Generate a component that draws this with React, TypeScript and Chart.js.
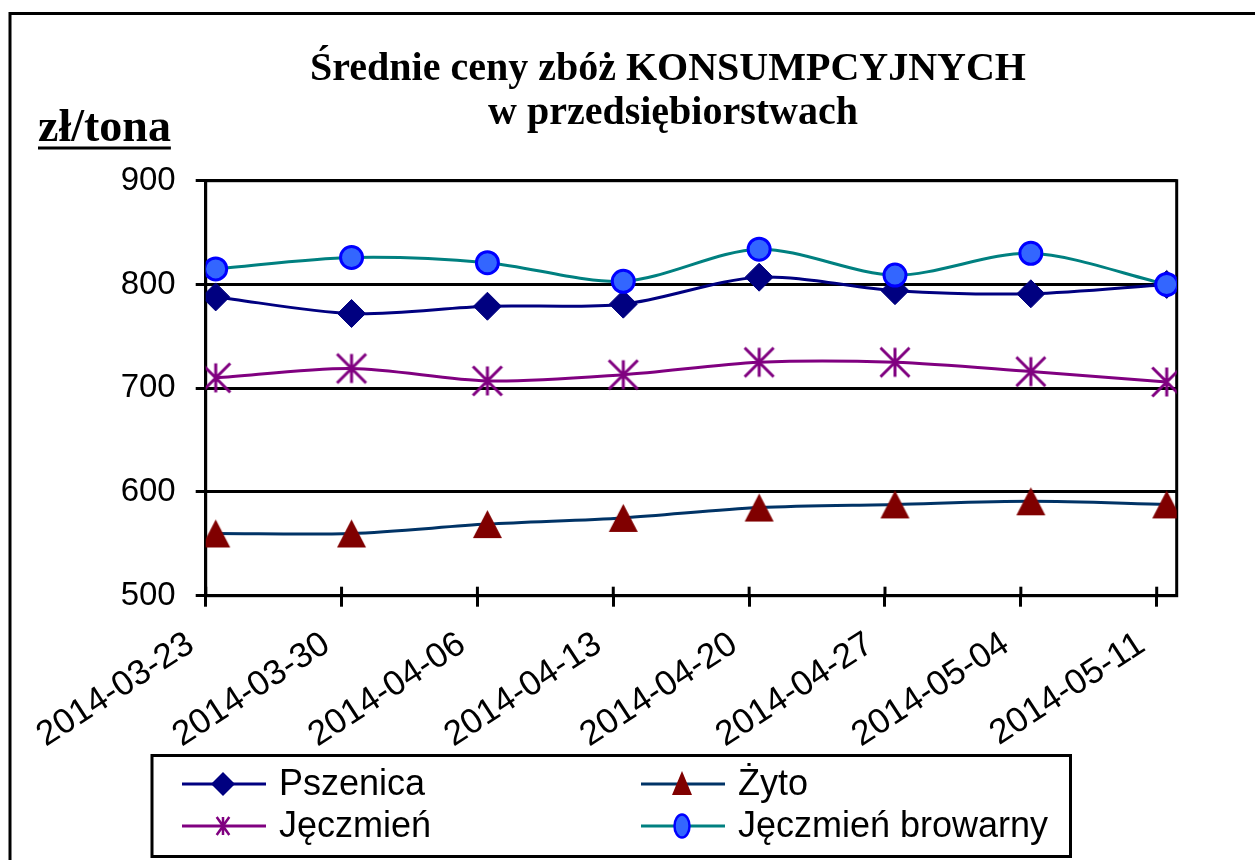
import React, { useEffect, useRef } from "react";
import { Chart, registerables } from "chart.js";

Chart.register(...registerables);

// ---------- data ----------
const categories = [
  "2014-03-23",
  "2014-03-30",
  "2014-04-06",
  "2014-04-13",
  "2014-04-20",
  "2014-04-27",
  "2014-05-04",
  "2014-05-11",
];
const pszenica = [788, 772, 779, 781, 807, 794, 791, 800];
const zyto = [560, 560, 569, 575, 585, 588, 591, 588];
const jeczmien = [710, 719, 707, 713, 725, 725, 716, 706];
const jeczmienBrowarny = [815, 826, 821, 803, 834, 809, 830, 800];
const yTicks = [500, 600, 700, 800, 900];
const seriesNames = ["Pszenica", "Żyto", "Jęczmień", "Jęczmień browarny"];
const titleLines = ["Średnie ceny zbóż KONSUMPCYJNYCH", "w przedsiębiorstwach"];
const yUnit = "zł/tona";

// ---------- styling ----------
const W = 1255;
const H = 860;
const OFF = 0.0736; // gap between plot edge and first/last point, in category units
const SANS = "'Liberation Sans', Arial, sans-serif";
const SERIF = "'Liberation Serif', 'Times New Roman', serif";

const C_PSZ = "#000080";
const C_ZYTO_LINE = "#003366";
const C_ZYTO_MARK = "#800000";
const C_JECZ = "#800080";
const C_BROW_LINE = "#008080";
const C_BROW_FILL = "#3366FF";
const C_BROW_BORDER = "#0000FF";

function makeStar(r: number, lw: number, color: string) {
  const c = document.createElement("canvas");
  const s = Math.ceil(2 * r + lw + 2);
  c.width = s;
  c.height = s;
  const g = c.getContext("2d")!;
  const m = s / 2;
  g.strokeStyle = color;
  g.lineWidth = lw;
  g.lineCap = "butt";
  g.beginPath();
  g.moveTo(m, m - r);
  g.lineTo(m, m + r);
  g.moveTo(m - r, m - r);
  g.lineTo(m + r, m + r);
  g.moveTo(m + r, m - r);
  g.lineTo(m - r, m + r);
  g.stroke();
  return c;
}

function makeTriangle(w: number, h: number, color: string) {
  const c = document.createElement("canvas");
  c.width = w + 2;
  c.height = h + 2;
  const g = c.getContext("2d")!;
  g.fillStyle = color;
  g.beginPath();
  g.moveTo(1 + w / 2, 1);
  g.lineTo(1 + w, 1 + h);
  g.lineTo(1, 1 + h);
  g.closePath();
  g.fill();
  return c;
}

function drawLegendMarker(ctx: CanvasRenderingContext2D, kind: string, x: number, y: number) {
  ctx.save();
  if (kind === "diamond") {
    const r = 12;
    ctx.fillStyle = C_PSZ;
    ctx.beginPath();
    ctx.moveTo(x, y - r);
    ctx.lineTo(x + r, y);
    ctx.lineTo(x, y + r);
    ctx.lineTo(x - r, y);
    ctx.closePath();
    ctx.fill();
  } else if (kind === "triangle") {
    ctx.fillStyle = C_ZYTO_MARK;
    ctx.beginPath();
    ctx.moveTo(x, y - 13);
    ctx.lineTo(x + 10, y + 11);
    ctx.lineTo(x - 10, y + 11);
    ctx.closePath();
    ctx.fill();
  } else if (kind === "star") {
    const r = 9;
    ctx.strokeStyle = C_JECZ;
    ctx.lineWidth = 2.5;
    ctx.beginPath();
    ctx.moveTo(x, y - r);
    ctx.lineTo(x, y + r);
    ctx.moveTo(x - r * 0.7, y - r);
    ctx.lineTo(x + r * 0.7, y + r);
    ctx.moveTo(x + r * 0.7, y - r);
    ctx.lineTo(x - r * 0.7, y + r);
    ctx.stroke();
  } else {
    ctx.fillStyle = C_BROW_FILL;
    ctx.strokeStyle = C_BROW_BORDER;
    ctx.lineWidth = 2.5;
    ctx.beginPath();
    ctx.ellipse(x, y, 7.5, 11.5, 0, 0, Math.PI * 2);
    ctx.fill();
    ctx.stroke();
  }
  ctx.restore();
}

const decorPlugin = {
  id: "decor",
  beforeDatasetsDraw(chart: any) {
    const { ctx, chartArea: a, scales } = chart;
    const x = scales.x;
    ctx.save();
    ctx.strokeStyle = "#000";
    ctx.lineWidth = 3;
    ctx.strokeRect(a.left, a.top, a.right - a.left, a.bottom - a.top);
    x.ticks.forEach((t: any) => {
      const px = x.getPixelForValue(t.value);
      ctx.beginPath();
      ctx.moveTo(px, a.bottom);
      ctx.lineTo(px, a.bottom - 9);
      ctx.stroke();
    });
    ctx.restore();
  },
  afterDraw(chart: any) {
    const { ctx } = chart;
    ctx.save();
    // outer frame (only top and left visible)
    ctx.strokeStyle = "#000";
    ctx.lineWidth = 3;
    ctx.beginPath();
    ctx.moveTo(10, H + 2);
    ctx.lineTo(10, 13.5);
    ctx.lineTo(W + 2, 13.5);
    ctx.stroke();

    // title
    ctx.fillStyle = "#000";
    ctx.textAlign = "center";
    ctx.textBaseline = "alphabetic";
    ctx.font = `bold 40px ${SERIF}`;
    ctx.fillText(titleLines[0], 668, 80);
    ctx.fillText(titleLines[1], 673, 124);

    // unit label
    ctx.textAlign = "left";
    ctx.font = `bold 46px ${SERIF}`;
    ctx.fillText(yUnit, 38, 141);
    const uw = ctx.measureText(yUnit).width;
    ctx.beginPath();
    ctx.moveTo(38, 148);
    ctx.lineTo(38 + uw, 148);
    ctx.stroke();

    // legend box
    ctx.lineWidth = 3;
    ctx.strokeRect(152, 755.5, 918.5, 101);
    const items = [
      { name: seriesNames[0], color: C_PSZ, kind: "diamond", x: 182, y: 784 },
      { name: seriesNames[1], color: C_ZYTO_LINE, kind: "triangle", x: 641, y: 784 },
      { name: seriesNames[2], color: C_JECZ, kind: "star", x: 182, y: 826 },
      { name: seriesNames[3], color: C_BROW_LINE, kind: "circle", x: 641, y: 826 },
    ];
    ctx.font = `36px ${SANS}`;
    ctx.textBaseline = "middle";
    items.forEach((it) => {
      ctx.strokeStyle = it.color;
      ctx.lineWidth = 3;
      ctx.beginPath();
      ctx.moveTo(it.x, it.y);
      ctx.lineTo(it.x + 84, it.y);
      ctx.stroke();
      drawLegendMarker(ctx, it.kind, it.x + 41, it.y);
      ctx.fillStyle = "#000";
      ctx.fillText(it.name, it.x + 97, it.y + 1);
    });
    ctx.restore();
  },
};

export default function App() {
  const ref = useRef<HTMLCanvasElement | null>(null);

  useEffect(() => {
    document.body.style.margin = "0";
    const canvas = ref.current;
    if (!canvas) return;
    const star = makeStar(14.5, 3, C_JECZ);
    const tri = makeTriangle(29, 28, C_ZYTO_MARK);
    const toXY = (arr: number[]) => arr.map((v, i) => ({ x: i, y: v }));

    const chart = new Chart(canvas, {
      type: "line",
      data: {
        datasets: [
          {
            label: seriesNames[0],
            data: toXY(pszenica),
            borderColor: C_PSZ,
            backgroundColor: C_PSZ,
            borderWidth: 3,
            pointStyle: "rectRot",
            pointRadius: 14,
            pointBorderWidth: 1,
            pointBackgroundColor: C_PSZ,
            pointBorderColor: C_PSZ,
            tension: 0.3,
            order: 3,
          },
          {
            label: seriesNames[1],
            data: toXY(zyto),
            borderColor: C_ZYTO_LINE,
            backgroundColor: C_ZYTO_MARK,
            borderWidth: 3,
            pointStyle: tri as any,
            pointRadius: 15,
            tension: 0.3,
            order: 2,
          },
          {
            label: seriesNames[2],
            data: toXY(jeczmien),
            borderColor: C_JECZ,
            backgroundColor: C_JECZ,
            borderWidth: 3,
            pointStyle: star as any,
            pointRadius: 14,
            tension: 0.3,
            order: 1,
          },
          {
            label: seriesNames[3],
            data: toXY(jeczmienBrowarny),
            borderColor: C_BROW_LINE,
            backgroundColor: C_BROW_FILL,
            borderWidth: 3,
            pointStyle: "circle",
            pointRadius: 11,
            pointBorderWidth: 3,
            pointBackgroundColor: C_BROW_FILL,
            pointBorderColor: C_BROW_BORDER,
            tension: 0.3,
            order: 0,
          },
        ],
      },
      options: {
        animation: false,
        responsive: false,
        maintainAspectRatio: false,
        events: [],
        layout: { padding: { left: 0, top: 180.7, right: W - 1176.7, bottom: 0 } },
        plugins: {
          legend: { display: false },
          title: { display: false },
          tooltip: { enabled: false },
        },
        scales: {
          x: {
            type: "linear",
            min: -OFF,
            max: categories.length - 1 + OFF,
            afterBuildTicks: (s: any) => {
              s.ticks = categories.map((_, i) => ({ value: i - OFF }));
            },
            afterFit: (s: any) => {
              s.height = H - 595.7;
            },
            ticks: {
              autoSkip: false,
              minRotation: 33,
              maxRotation: 33,
              padding: 17,
              labelOffset: -15,
              color: "#000",
              font: { family: SANS, size: 35 },
              callback: (_v: any, i: number) => categories[i],
            },
            grid: {
              drawOnChartArea: false,
              drawTicks: true,
              tickLength: 11,
              color: "#000",
              lineWidth: 3,
            },
            border: { display: true, color: "#000", width: 3 },
          },
          y: {
            type: "linear",
            min: 500,
            max: 900,
            afterBuildTicks: (s: any) => {
              s.ticks = yTicks.map((v) => ({ value: v }));
            },
            afterFit: (s: any) => {
              s.width = 205.7;
            },
            ticks: {
              padding: 20,
              color: "#000",
              font: { family: SANS, size: 33 },
            },
            grid: { color: "#000", lineWidth: 3, tickLength: 10 },
            border: { display: true, color: "#000", width: 3 },
          },
        },
      } as any,
      plugins: [decorPlugin],
    });
    return () => chart.destroy();
  }, []);

  return <canvas ref={ref} width={W} height={H} style={{ display: "block" }} />;
}
